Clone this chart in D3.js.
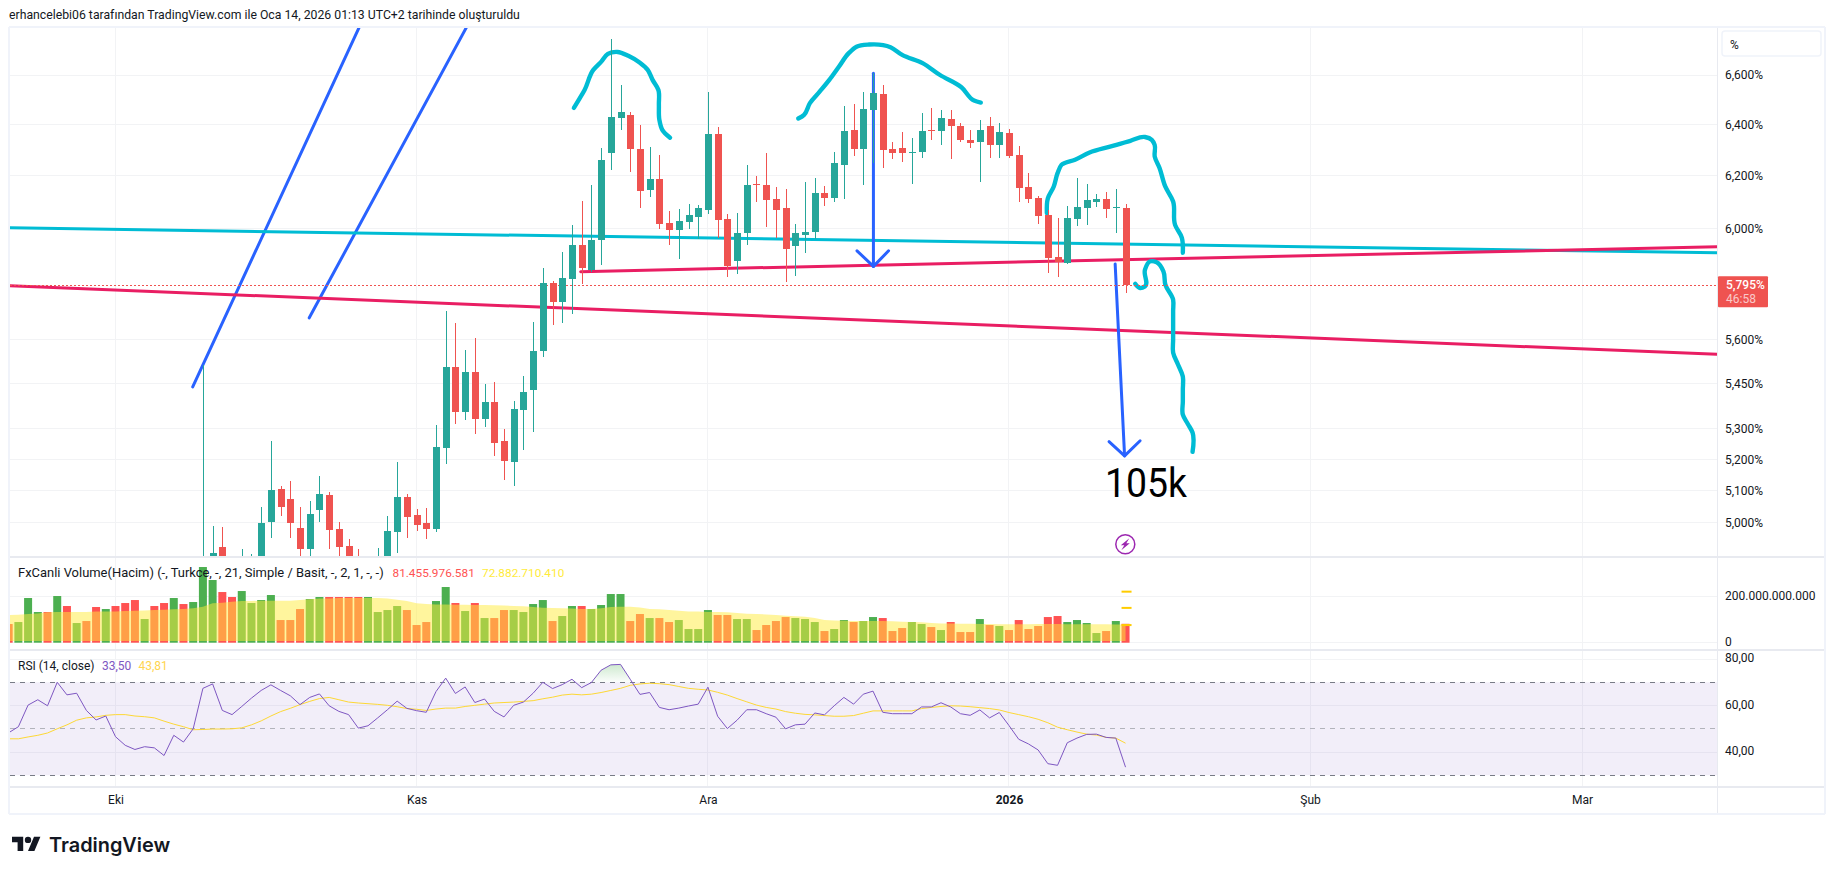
<!DOCTYPE html>
<html>
<head>
<meta charset="utf-8">
<style>
    html, body { margin: 0; padding: 0; background: #fff; }
    svg { display: block; }
    text { font-family: Roboto, "Noto Sans", sans-serif; fill: #131722; }
    .axis .domain, .axis line { display: none; }
    .axis text { font-family: Roboto, sans-serif; font-size: 12px; fill: #131722; }
    .grid { stroke: #f2f3f5; stroke-width: 1; shape-rendering: crispEdges; }
</style>
</head>
<body>
<div class="canvas"></div>
<script src="https://cdn.jsdelivr.net/npm/d3@7"></script>
<script>
// price candles, one a day from this date
const candleStart = "2025-10-10";
const opens = [4.80,4.85,4.924,4.84,4.84,4.85,4.88,5.002,5.104,5.072,4.982,4.918,5.038,5.085,4.979,4.927,4.89,4.87,4.86,4.87,
    4.970,5.081,5.022,4.998,4.979,5.238,5.505,5.356,5.491,5.330,5.389,5.258,5.190,5.363,5.430,5.560,5.802,5.734,5.816,5.941,
    5.849,5.959,6.289,6.427,6.439,6.305,6.146,6.188,6.022,5.996,6.025,6.044,6.070,6.363,6.036,5.881,5.985,6.169,6.165,6.112,
    6.077,5.937,5.978,5.989,6.134,6.115,6.242,6.379,6.305,6.459,6.523,6.305,6.309,6.289,6.293,6.379,6.375,6.423,6.395,6.340,
    6.332,6.395,6.320,6.367,6.281,6.157,6.115,6.051,5.896,5.874,6.036,6.077,6.100,6.112,6.077,6.077];
const highs = [5.512,4.989,4.985,4.89,4.918,4.903,5.047,5.258,5.113,5.129,5.047,5.067,5.145,5.094,5.002,4.948,4.918,4.89,4.921,5.019,
    5.190,5.090,5.041,5.044,5.313,5.702,5.660,5.566,5.608,5.447,5.454,5.300,5.393,5.477,5.664,5.856,5.809,5.915,6.014,6.104,
    6.165,6.308,6.749,6.559,6.451,6.399,6.313,6.282,6.066,6.074,6.093,6.089,6.531,6.391,6.055,6.059,6.242,6.200,6.289,6.157,
    6.150,6.018,6.176,6.192,6.161,6.293,6.475,6.483,6.531,6.608,6.559,6.332,6.371,6.348,6.447,6.467,6.459,6.459,6.407,6.379,
    6.419,6.431,6.407,6.383,6.316,6.211,6.123,6.070,6.040,6.085,6.192,6.169,6.131,6.138,6.150,6.093];
const lows = [4.78,4.82,4.83,4.82,4.82,4.83,4.86,4.952,5.019,4.951,4.89,4.89,5.002,4.918,4.897,4.86,4.85,4.85,4.84,4.85,
    4.907,4.952,4.973,4.948,4.970,5.186,5.316,5.327,5.281,5.304,5.212,5.132,5.113,5.229,5.290,5.542,5.653,5.660,5.692,5.798,
    5.842,5.867,6.223,6.379,6.215,6.077,6.119,6.000,5.940,5.889,6.000,5.963,6.055,5.966,5.824,5.835,5.940,6.100,6.007,5.966,
    5.806,5.827,5.911,5.963,6.085,6.100,6.112,6.277,6.165,6.250,6.231,6.266,6.254,6.169,6.270,6.340,6.320,6.266,6.332,6.309,
    6.176,6.270,6.270,6.270,6.100,6.096,6.018,5.838,5.824,5.870,6.011,6.014,6.081,6.040,5.985,5.766];
const closes = [4.86,4.906,4.86,4.87,4.87,4.88,4.999,5.101,5.047,4.998,4.918,5.026,5.088,4.976,4.924,4.88,4.87,4.88,4.89,4.973,
    5.081,5.016,4.992,4.979,5.241,5.505,5.356,5.491,5.330,5.389,5.254,5.193,5.366,5.420,5.563,5.802,5.734,5.820,5.941,5.856,
    5.959,6.262,6.431,6.451,6.305,6.142,6.188,6.018,5.996,6.029,6.051,6.077,6.363,6.033,5.863,5.985,6.165,6.165,6.108,6.070,
    5.926,5.985,5.989,6.134,6.115,6.250,6.375,6.305,6.463,6.527,6.301,6.289,6.289,6.293,6.375,6.375,6.427,6.395,6.340,6.328,
    6.379,6.320,6.371,6.277,6.154,6.112,6.048,5.892,5.878,6.040,6.081,6.108,6.112,6.074,6.081,5.795];
const lastPrice = 5.795;

// volume (billions) and its 21 day average, one a day from this date
const volumeStart = "2025-09-20";
const volumes = [80.5,89.1,192.6,132.2,132.2,201.2,158.1,84.8,93.4,153.8,145.1,158.1,171,183.9,102,158.1,171,192.6,166.7,175.3,
    326.2,270.2,218.4,196.9,222.7,171,183.9,205.5,97.7,97.7,145.1,188.2,196.9,196.9,196.9,196.9,196.9,196.9,132.2,140.8,
    158.1,140.8,76.2,89.1,179.6,240,171,136.5,171,106.3,106.3,140.8,140.8,132.2,166.7,183.9,93.4,115,158.1,158.1,145.1,162.4,
    209.8,209.8,93.4,123.6,106.3,106.3,89.1,97.7,58.9,58.9,140.8,119.3,119.3,102,102,54.6,76.2,93.4,110.6,106.3,102,89.1,50.3,
    58.9,97.7,89.1,93.4,110.6,106.3,50.3,63.2,89.1,80.5,67.5,54.6,89.1,46,46,102,76.2,71.9,54.6,97.7,58.9,71.9,110.6,115,
    89.1,97.7,84.8,41.7,50.3,93.4,81.5];
const volumeDirs = "rgggrgrgrrgrrrgrrgrgggrrggggrrrggrrrrggggrrrggrgrgrrggggrggrgg"
    + "ggrrgrrggggrrggrrrrgggrggrggrrrggrgrrrgrgrrrrrrggggrgr";
const volumeAvg = [119,121,124,126,131,132,132,132,132,134,134,135,136.5,138,139,141,142,144,145,148,
    155,170,172,177,180,180,181,181,181,181,184,187,190,191,192.5,192.5,192.5,192.5,192.5,191,
    185,180,170,167,165,165,164,164,162,162,161,160,158,157,154,151,149.5,148,147,145,145,148,
    154,155,155,152,145,144,141,138,135,134,132,132,131,128,125,124,122,119,116,113.5,112,106,98,
    96,95,93,93,93,93,92,90,89,88,85,83,83,82,82,80.5,80.5,79,79,79,79,80.5,80.5,80.5,
    80,80,80,79,79,78,78];
const volumeMarkers = [220, 150, 76];

// RSI and its average, same days as the volume
const rsiValues = [48.3,50.9,60.2,62.5,59.9,70,64.6,65.3,57.9,53.8,55.5,46.6,42.9,41.1,42.3,41.8,38.5,47.2,44.3,50,
    67.4,69.3,57.9,56.1,59.6,63.2,66.5,68.9,66.5,64.2,60.4,63.5,65,59.9,57.5,56.1,50.3,51.3,54.7,58.2,
    61.9,58.8,57.8,57.1,66,71.8,65.2,68,61.3,62.8,57.5,55.1,60.1,61.5,65.3,70,67.3,69,71.3,67.7,69.9,75.2,77.5,
    77.7,71.3,64.8,65.6,59.2,58.2,58.9,59.8,60.6,67.9,55.4,50.1,53.7,58.2,58.2,56.5,55,50,51.7,52,56.8,56,59.9,63.5,60.6,64.9,66.2,
    57.1,56.5,56.5,56.5,59.4,59.4,61.2,59.4,56.5,55.8,58.1,54.7,57,51.4,45.5,43.5,40.9,35,34.3,44,46,47.6,47.7,46.3,46,33.5];
const rsiAvg = [45.7,45.7,46.5,47.2,48.2,50,51.7,53.7,54.7,55.1,55.8,56.1,56.1,55.5,55.2,54.7,53.3,52,50.9,49.6,
    49.7,49.9,49.9,50,50.4,51.7,53.4,55.5,57.4,58.8,60.4,61.8,63,63.5,62.5,61.5,61.1,60.8,60.5,60.1,
    59.5,58.7,58.4,57.9,58.5,58.9,58.9,59.6,60.1,60.6,61.1,61.3,61.5,61.8,62.1,62.9,63.6,64.5,64.9,64.6,64.9,65.6,66.5,
    67.4,68.7,69.3,69.6,69.4,69,68.2,67.4,67,66.7,65.7,64.5,63,61.6,60.2,59.2,58.5,57.4,56.7,56.2,56,55.7,55.4,55.4,55.7,56.7,57.7,
    57.7,57.7,57.7,57.7,58.7,59.2,59.6,59.9,59.8,59.5,59.1,58.7,58.1,57,56.1,55.2,54.1,52.6,50.7,49.6,48.6,47.7,47.3,46.3,46,43.81];

// axis ticks and labels
const priceTicks = [6.6, 6.4, 6.2, 6.0, 5.6, 5.45, 5.3, 5.2, 5.1, 5.0];
const volumeTicks = [200, 0];
const rsiTicks = [80, 60, 40];
const monthDates = ["2025-10-01", "2025-11-01", "2025-12-01", "2026-01-01", "2026-02-01", "2026-03-01"];
const monthLabels = ["Eki", "Kas", "Ara", "2026", "Şub", "Mar"];

// drawings on the chart: [days from 2026-01-01, price]
const cyanLine = [[-103, 6.003], [72.9, 5.911]];
const pinkLineLong = [[-103, 5.791], [72.9, 5.55]];
const pinkLineShort = [[-44.1, 5.842], [72.9, 5.933]];
const blueLineA = [[-84.05, 5.439], [-66.9, 6.799]];
const blueLineB = [[-72.05, 5.677], [-55.85, 6.799]];
const arrowOneShaft = [[-13.96, 6.607], [-13.96, 5.861]];
const arrowOneHead = [[-15.65, 5.918], [-13.96, 5.861], [-12.4, 5.918]];
const arrowTwoShaft = [[10.93, 5.870], [11.9, 5.211]];
const arrowTwoHead = [[10.3, 5.257], [11.9, 5.211], [13.5, 5.26]];
const strokeOne = [[-44.8,6.467],[-44.3,6.499],[-43.7,6.539],[-42.8,6.621],[-42,6.654],[-41.3,6.687],[-40.3,6.695],[-39.2,6.679],
    [-38,6.65],[-37.2,6.621],[-36.7,6.58],[-36.1,6.539],[-36.05,6.48],[-36,6.419],[-35.7,6.379],[-34.9,6.348]];
const strokeTwo = [[-21.7,6.424],[-21.1,6.439],[-20.5,6.486],[-19.5,6.532],[-18.5,6.58],[-17.5,6.635],[-16.5,6.69],[-15.7,6.717],
    [-14.4,6.726],[-12.2,6.715],[-11,6.683],[-8.9,6.649],[-7.1,6.6],[-4.9,6.55],[-3.6,6.496],[-2.9,6.488]];
const strokeThree = [[3.9,6.058],[4,6.114],[4.6,6.158],[5,6.21],[5.4,6.242],[6.8,6.262],[8.3,6.29],[10.4,6.313],[12.5,6.336],[14,6.351],
    [14.7,6.34],[15,6.32],[15,6.275],[15.5,6.23],[16.1,6.158],[16.9,6.102],[17.1,6.014],[17.8,5.966],[17.9,5.911]];
const strokeFour = [[13,5.798],[13.5,5.783],[14,5.789],[14,5.849],[14.5,5.879],[15.2,5.876],[15.9,5.843],[16.1,5.795],[16.9,5.741],
    [16.9,5.7],[16.9,5.6],[16.9,5.556],[17.4,5.515],[17.9,5.474],[17.9,5.43],[17.9,5.39],[17.9,5.346],[18.4,5.316],[18.9,5.287],[18.9,5.224]];

const PANE_LEFT = 10;
const PANE_RIGHT = 1717;
const FRAME_LEFT = 9;
const FRAME_RIGHT = 1825;
const PRICE_TOP = 27;
const PRICE_BOTTOM = 557;
const VOLUME_BOTTOM = 650;
const RSI_BOTTOM = 787;
const FRAME_BOTTOM = 814;
const AXIS_TEXT_X = 8;
const DAY = 864e5;
const JAN_FIRST = Date.UTC(2026, 0, 1);

const svg = d3.select(".canvas").append("svg")
    .attr("width", 1835)
    .attr("height", 875);

const xScale = d3.scaleUtc()
    .domain([new Date("2025-10-01"), new Date("2026-03-01")])
    .range([115.5, 1582]);
const priceScale = d3.scaleLog().domain([5, 6.6]).range([522.5, 75]);
const volumeScale = d3.scaleLinear().domain([0, 200]).range([642.7, 596.3]);
const rsiScale = d3.scaleLinear().domain([30, 70]).range([775.3, 682.3]);

const dayX = d => xScale(new Date(JAN_FIRST + d * DAY));
const startX = (start, i) => xScale(new Date(new Date(start).getTime() + i * DAY));

function addClip(id, y0, y1) {
    svg.append("clipPath").attr("id", id).append("rect")
        .attr("x", PANE_LEFT).attr("y", y0)
        .attr("width", PANE_RIGHT - PANE_LEFT).attr("height", y1 - y0);
}
addClip("priceClip", PRICE_TOP, PRICE_BOTTOM);
addClip("volumeClip", PRICE_BOTTOM, VOLUME_BOTTOM);
addClip("rsiClip", VOLUME_BOTTOM, RSI_BOTTOM);
addClip("rsiUpperClip", VOLUME_BOTTOM, rsiScale(70));

// title
svg.append("text").attr("x", 9).attr("y", 19)
    .style("font-size", "12.25px")
    .text("erhancelebi06 tarafından TradingView.com ile Oca 14, 2026 01:13 UTC+2 tarihinde oluşturuldu");

// grid
const grid = svg.append("g");
monthDates.forEach(m => {
    grid.append("line").attr("class", "grid")
        .attr("x1", xScale(new Date(m))).attr("x2", xScale(new Date(m)))
        .attr("y1", PRICE_TOP).attr("y2", RSI_BOTTOM);
});
function hGrid(ticks, scale) {
    ticks.forEach(t => {
        grid.append("line").attr("class", "grid")
            .attr("x1", PANE_LEFT).attr("x2", PANE_RIGHT)
            .attr("y1", scale(t)).attr("y2", scale(t));
    });
}
hGrid(priceTicks, priceScale);
hGrid(volumeTicks, volumeScale);
hGrid(rsiTicks, rsiScale);

// drawings sit under the candles
const drawingLine = d3.line().x(d => dayX(d[0])).y(d => priceScale(d[1]));
const brushLine = d3.line().x(d => dayX(d[0])).y(d => priceScale(d[1])).curve(d3.curveCatmullRom.alpha(1));
const drawings = svg.append("g").attr("clip-path", "url(#priceClip)")
    .attr("fill", "none").attr("stroke-linecap", "round").attr("stroke-linejoin", "round");
function draw(points, color, width) {
    drawings.append("path").attr("d", drawingLine(points)).attr("stroke", color).attr("stroke-width", width);
}
function brush(points) {
    drawings.append("path").attr("d", brushLine(points)).attr("stroke", "#00bcd4").attr("stroke-width", 4.4);
}
draw(blueLineA, "#2962ff", 3);
draw(blueLineB, "#2962ff", 3);
draw(cyanLine, "#00bcd4", 3);
draw(pinkLineLong, "#e91e63", 3);
draw(pinkLineShort, "#e91e63", 3);
draw(arrowOneShaft, "#2962ff", 3);
draw(arrowOneHead, "#2962ff", 3);
draw(arrowTwoShaft, "#2962ff", 3);
draw(arrowTwoHead, "#2962ff", 3);
brush(strokeOne);
brush(strokeTwo);
brush(strokeThree);
brush(strokeFour);

// last price dotted line
const lastY = Math.round(priceScale(lastPrice)) + 0.5;
svg.append("line")
    .attr("x1", PANE_LEFT).attr("x2", PANE_RIGHT)
    .attr("y1", lastY).attr("y2", lastY)
    .attr("stroke", "#ef5350").attr("stroke-width", 1).attr("stroke-dasharray", "2,2");

// candles
const candleColor = i => closes[i] >= opens[i] ? "#26a69a" : "#ef5350";
const candles = svg.append("g").attr("clip-path", "url(#priceClip)").attr("shape-rendering", "crispEdges");
candles.selectAll("rect.wick").data(opens).enter().append("rect")
    .attr("class", "wick")
    .attr("x", (d, i) => Math.round(startX(candleStart, i)))
    .attr("width", 1)
    .attr("y", (d, i) => priceScale(highs[i]))
    .attr("height", (d, i) => priceScale(lows[i]) - priceScale(highs[i]))
    .attr("fill", (d, i) => candleColor(i));
candles.selectAll("rect.body").data(opens).enter().append("rect")
    .attr("class", "body")
    .attr("x", (d, i) => Math.round(startX(candleStart, i)) - 3)
    .attr("width", 7)
    .attr("y", (d, i) => Math.min(priceScale(opens[i]), priceScale(closes[i])))
    .attr("height", (d, i) => Math.max(1, Math.abs(priceScale(opens[i]) - priceScale(closes[i]))))
    .attr("fill", (d, i) => candleColor(i));

// volume pane
const volumePane = svg.append("g").attr("clip-path", "url(#volumeClip)");
volumePane.selectAll("rect").data(volumes).enter().append("rect")
    .attr("x", (d, i) => startX(volumeStart, i) - 4)
    .attr("width", 8)
    .attr("y", d => volumeScale(d))
    .attr("height", d => volumeScale(0) - volumeScale(d))
    .attr("fill", (d, i) => volumeDirs[i] === "g" ? "#4caf50" : "#ff5252");
volumePane.append("path")
    .attr("d", d3.area()
        .x((d, i) => startX(volumeStart, i))
        .y0(volumeScale(7))
        .y1(d => volumeScale(d))(volumeAvg))
    .attr("fill", "#ffeb3b").attr("fill-opacity", 0.5);
svg.append("g").selectAll("rect").data(volumeMarkers).enter().append("rect")
    .attr("x", startX(volumeStart, volumes.length - 1) - 4)
    .attr("width", 10).attr("height", 2)
    .attr("y", d => volumeScale(d) - 1)
    .attr("fill", "#ffcc00");

// RSI pane
const rsiPane = svg.append("g").attr("clip-path", "url(#rsiClip)");
rsiPane.append("rect")
    .attr("x", PANE_LEFT).attr("width", PANE_RIGHT - PANE_LEFT)
    .attr("y", rsiScale(70)).attr("height", rsiScale(30) - rsiScale(70))
    .attr("fill", "#7e57c2").attr("fill-opacity", 0.1);
const defs = svg.append("defs");
const upperGradient = defs.append("linearGradient").attr("id", "rsiUpper")
    .attr("gradientUnits", "userSpaceOnUse")
    .attr("x1", 0).attr("x2", 0).attr("y1", rsiScale(78)).attr("y2", rsiScale(70));
upperGradient.append("stop").attr("offset", 0).attr("stop-color", "#4caf50").attr("stop-opacity", 0.28);
upperGradient.append("stop").attr("offset", 1).attr("stop-color", "#4caf50").attr("stop-opacity", 0.02);
rsiPane.append("path")
    .attr("clip-path", "url(#rsiUpperClip)")
    .attr("d", d3.area()
        .x((d, i) => startX(volumeStart, i))
        .y0(rsiScale(70))
        .y1(d => rsiScale(d))(rsiValues))
    .attr("fill", "url(#rsiUpper)");
[[70, "#787b86"], [50, "#b2b3bb"], [30, "#787b86"]].forEach(b => {
    rsiPane.append("line")
        .attr("x1", PANE_LEFT).attr("x2", PANE_RIGHT)
        .attr("y1", rsiScale(b[0])).attr("y2", rsiScale(b[0]))
        .attr("stroke", b[1]).attr("stroke-width", 1).attr("stroke-dasharray", "5,5")
        .attr("shape-rendering", "crispEdges");
});
const rsiLine = d3.line().x((d, i) => startX(volumeStart, i)).y(d => rsiScale(d));
rsiPane.append("path").attr("d", rsiLine(rsiAvg)).attr("fill", "none").attr("stroke", "#fdd835").attr("stroke-width", 1);
rsiPane.append("path").attr("d", rsiLine(rsiValues)).attr("fill", "none").attr("stroke", "#7e57c2").attr("stroke-width", 1);

// frame and separators
const frameColor = "#e8eaf0";
function sep(x1, y1, x2, y2, color, width) {
    svg.append("line").attr("x1", x1).attr("y1", y1).attr("x2", x2).attr("y2", y2)
        .attr("stroke", color).attr("stroke-width", width).attr("shape-rendering", "crispEdges");
}
sep(FRAME_LEFT, PRICE_BOTTOM, FRAME_RIGHT, PRICE_BOTTOM, frameColor, 2);
sep(FRAME_LEFT, VOLUME_BOTTOM, FRAME_RIGHT, VOLUME_BOTTOM, frameColor, 2);
sep(FRAME_LEFT, RSI_BOTTOM, FRAME_RIGHT, RSI_BOTTOM, frameColor, 2);
sep(PANE_RIGHT + 0.5, PRICE_TOP, PANE_RIGHT + 0.5, FRAME_BOTTOM, frameColor, 1);
sep(FRAME_LEFT, PRICE_TOP, FRAME_RIGHT, PRICE_TOP, "#f0f3fa", 2);
sep(FRAME_LEFT, FRAME_BOTTOM, FRAME_RIGHT, FRAME_BOTTOM, "#f0f3fa", 2);
sep(FRAME_LEFT, PRICE_TOP, FRAME_LEFT, FRAME_BOTTOM, "#f0f3fa", 2);
sep(FRAME_RIGHT, PRICE_TOP, FRAME_RIGHT, FRAME_BOTTOM, "#f0f3fa", 2);

// axes
const priceAxis = d3.axisRight(priceScale).tickValues(priceTicks)
    .tickSize(0).tickPadding(AXIS_TEXT_X)
    .tickFormat(d => d3.format(".3f")(d).replace(".", ",") + "%");
svg.append("g").attr("class", "axis").attr("transform", "translate(" + PANE_RIGHT + ",0)").call(priceAxis);

const volumeAxis = d3.axisRight(volumeScale).tickValues(volumeTicks)
    .tickSize(0).tickPadding(AXIS_TEXT_X)
    .tickFormat(d => d === 0 ? "0" : d + ".000.000.000");
svg.append("g").attr("class", "axis").attr("transform", "translate(" + PANE_RIGHT + ",-1)").call(volumeAxis);

const rsiAxis = d3.axisRight(rsiScale).tickValues(rsiTicks)
    .tickSize(0).tickPadding(AXIS_TEXT_X)
    .tickFormat(d => d + ",00");
svg.append("g").attr("class", "axis").attr("transform", "translate(" + PANE_RIGHT + ",-1)").call(rsiAxis);

const timeAxis = d3.axisBottom(xScale).tickValues(monthDates.map(m => new Date(m)))
    .tickSize(0).tickPadding(0)
    .tickFormat((d, i) => monthLabels[i]);
const timeAxisRoot = svg.append("g").attr("class", "axis").attr("transform", "translate(0,795)").call(timeAxis);
timeAxisRoot.selectAll("text").filter((d, i) => monthLabels[i] === "2026").style("font-weight", "700");

// percent button
svg.append("rect").attr("x", 1722).attr("y", 31).attr("width", 99).attr("height", 25).attr("rx", 3)
    .attr("fill", "#fff").attr("stroke", "#f0f3fa").attr("stroke-width", 1.5);
svg.append("text").attr("x", 1730).attr("y", 49).style("font-size", "12px").text("%");

// last price label
svg.append("rect").attr("x", 1718).attr("y", priceScale(lastPrice) - 8.5).attr("width", 50).attr("height", 31).attr("rx", 1)
    .attr("fill", "#ef5350");
svg.append("text").attr("x", 1726).attr("y", priceScale(lastPrice) + 4)
    .style("fill", "#fff").style("font-size", "12px").style("font-weight", "500")
    .text(d3.format(".3f")(lastPrice).replace(".", ",") + "%");
svg.append("text").attr("x", 1726).attr("y", priceScale(lastPrice) + 18)
    .style("fill", "#fff").style("fill-opacity", 0.7).style("font-size", "12px")
    .text("46:58");

// legends
svg.append("text").attr("x", 18).attr("y", 577).style("font-size", "12.95px")
    .text("FxCanli Volume(Hacim) (-, Turkce, -, 21, Simple / Basit, -, 2, 1, -, -)");
svg.append("text").attr("x", 392.5).attr("y", 577).style("font-size", "11.8px").style("fill", "#ff5252").text("81.455.976.581");
svg.append("text").attr("x", 482).attr("y", 577).style("font-size", "11.8px").style("fill", "#ffeb3b").text("72.882.710.410");
svg.append("text").attr("x", 18).attr("y", 670).style("font-size", "12px").text("RSI (14, close)");
svg.append("text").attr("x", 102).attr("y", 670).style("font-size", "12px").style("fill", "#7e57c2").text("33,50");
svg.append("text").attr("x", 138.5).attr("y", 670).style("font-size", "12px").style("fill", "#ffd54f").text("43,81");

// 105k note
svg.append("text").attr("x", 1105).attr("y", 497)
    .attr("textLength", 82).attr("lengthAdjust", "spacingAndGlyphs")
    .style("font-family", "Roboto, sans-serif").style("font-size", "40px").style("fill", "#000")
    .text("105k");

// flash icon
const flash = svg.append("g").attr("transform", "translate(1125.3,544.3)");
flash.append("circle").attr("r", 9.5).attr("fill", "#fff").attr("stroke", "#9c27b0").attr("stroke-width", 1.5);
flash.append("path").attr("d", "M4,-6 L-4.5,1 L-1,1 L-4,6 L4.5,-1 L1,-1 Z").attr("fill", "#9c27b0");

// logo
const logo = svg.append("g").attr("transform", "translate(12,833.5) scale(0.8)").attr("fill", "#131722");
logo.append("path").attr("d", "M14 22H7V11H0V4h14v18zM28 22h-8l7.5-18h8L28 22z");
logo.append("circle").attr("cx", 20).attr("cy", 8).attr("r", 4);
svg.append("text").attr("x", 49).attr("y", 852)
    .style("font-family", "Inter, Roboto, sans-serif").style("font-size", "19.9px").style("font-weight", "600")
    .text("TradingView");
</script>
</body>
</html>
